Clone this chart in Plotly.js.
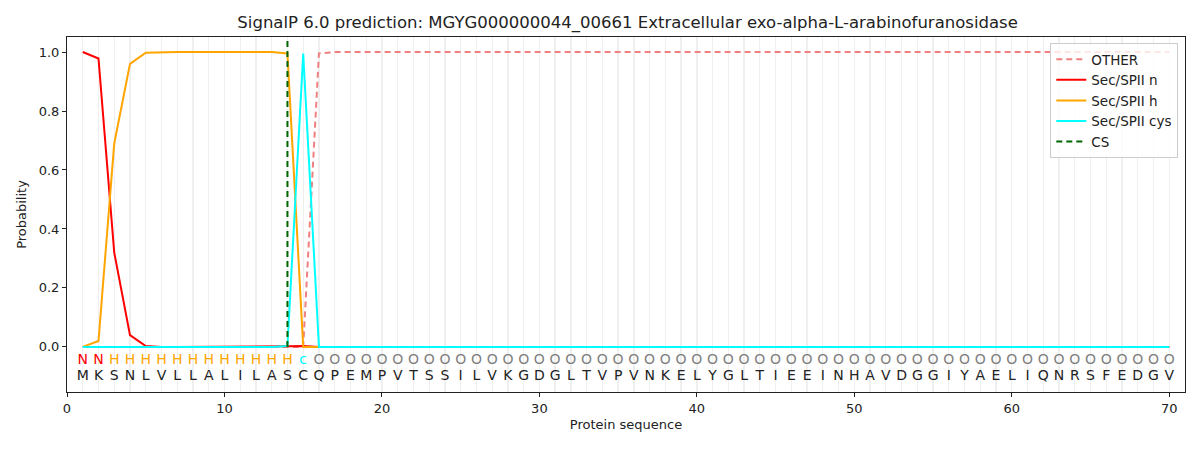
<!DOCTYPE html>
<html><head><meta charset="utf-8">
<script src="https://cdn.plot.ly/plotly-3.0.1.min.js"></script>
<style>body{margin:0;background:#fff}</style>
</head><body><div id="chart" style="width:1200px;height:450px"></div>
<script>
const sequence = "MKSNLVLLALILASCQPEMPVTSSILVKGDGLTVPVNKELYGLTIEEINHAVDGGIYAELIQNRSFEDGV".split("");
const labels = "NNHHHHHHHHHHHHc".split("").concat(Array(55).fill("O"));
const positions = sequence.map((_, i) => i + 1);
const otherProb = [0,0,0,0,0,0,0,0,0,0,0,0,0,0,0,0.995].concat(Array(54).fill(1.0));
const nProb = [1.0,0.978,0.32,0.04,0.003,0,0,0,0,0,0,0,0,0.002,0.003].concat(Array(55).fill(0));
const hProb = [0,0.02,0.69,0.96,0.998,1.0,1.0,1.0,1.0,1.0,1.0,1.0,1.0,0.995,0].concat(Array(55).fill(0));
const cysProb = [0,0,0,0,0,0,0,0,0,0,0,0,0,0.003,0.995,0].concat(Array(54).fill(0));
const csPos = 14;
const csRange = [0, 1.04];
const xTicks = [0,10,20,30,40,50,60,70];
const yTicks = [0,0.2,0.4,0.6,0.8,1.0];
const labelColors = {N:'red', H:'orange', c:'cyan', O:'gray'};

const font = "DejaVu Sans, sans-serif";
const traces = [
  {x: positions, y: otherProb, name: 'OTHER', mode: 'lines', line: {color: '#f08080', width: 2, dash: '6px,4px'}},
  {x: positions, y: nProb, name: 'Sec/SPII n', mode: 'lines', line: {color: 'red', width: 2}},
  {x: positions, y: hProb, name: 'Sec/SPII h', mode: 'lines', line: {color: 'orange', width: 2}},
  {x: positions, y: cysProb, name: 'Sec/SPII cys', mode: 'lines', line: {color: 'cyan', width: 2}},
  {x: [csPos, csPos], y: csRange, name: 'CS', mode: 'lines', line: {color: 'darkgreen', width: 2, dash: '6px,4px'}},
  {x: positions, y: positions.map(() => -0.047), mode: 'text', text: labels, showlegend: false, hoverinfo: 'skip',
   textfont: {family: font, size: 14, color: labels.map(l => labelColors[l])}},
  {x: positions, y: positions.map(() => -0.1), mode: 'text', text: sequence, showlegend: false, hoverinfo: 'skip',
   textfont: {family: font, size: 14, color: '#222'}}
];
const layout = {
  width: 1200, height: 450,
  margin: {l: 67, r: 15, t: 37, b: 58},
  paper_bgcolor: '#fff', plot_bgcolor: '#fff',
  font: {family: font, size: 13, color: '#222'},
  title: {text: 'SignalP 6.0 prediction: MGYG000000044_00661 Extracellular exo-alpha-L-arabinofuranosidase',
          font: {family: font, size: 16.5, color: '#222'}, x: 0.523, xanchor: 'center', y: 0.95, yanchor: 'middle'},
  xaxis: {range: [0, 71], tickvals: xTicks, ticks: 'outside', ticklen: 4, tickcolor: '#222',
          showline: true, linecolor: '#222', linewidth: 1, mirror: true, zeroline: false,
          showgrid: true, gridcolor: '#efefef', gridwidth: 1.3,
          minor: {dtick: 1, tick0: 0, showgrid: true, gridcolor: '#efefef', gridwidth: 1.3},
          tickfont: {family: font, size: 13, color: '#222'},
          title: {text: 'Protein sequence', font: {family: font, size: 13, color: '#222'}, standoff: 5}},
  yaxis: {range: [-0.153, 1.051], tickvals: yTicks, tickformat: '.1f', ticks: 'outside', ticklen: 4, tickcolor: '#222',
          showline: true, linecolor: '#222', linewidth: 1, mirror: true, zeroline: false, showgrid: false,
          tickfont: {family: font, size: 13, color: '#222'},
          title: {text: 'Probability', font: {family: font, size: 13, color: '#222'}, standoff: 9}},
  legend: {x: 0.994, y: 0.983, xanchor: 'right', yanchor: 'top', bgcolor: 'rgba(255,255,255,0.8)',
           bordercolor: '#cccccc', borderwidth: 1, font: {family: font, size: 13.5, color: '#222'}, tracegroupgap: 0},
  showlegend: true
};
Plotly.newPlot('chart', traces, layout, {displayModeBar: false, staticPlot: true});
</script></body></html>
